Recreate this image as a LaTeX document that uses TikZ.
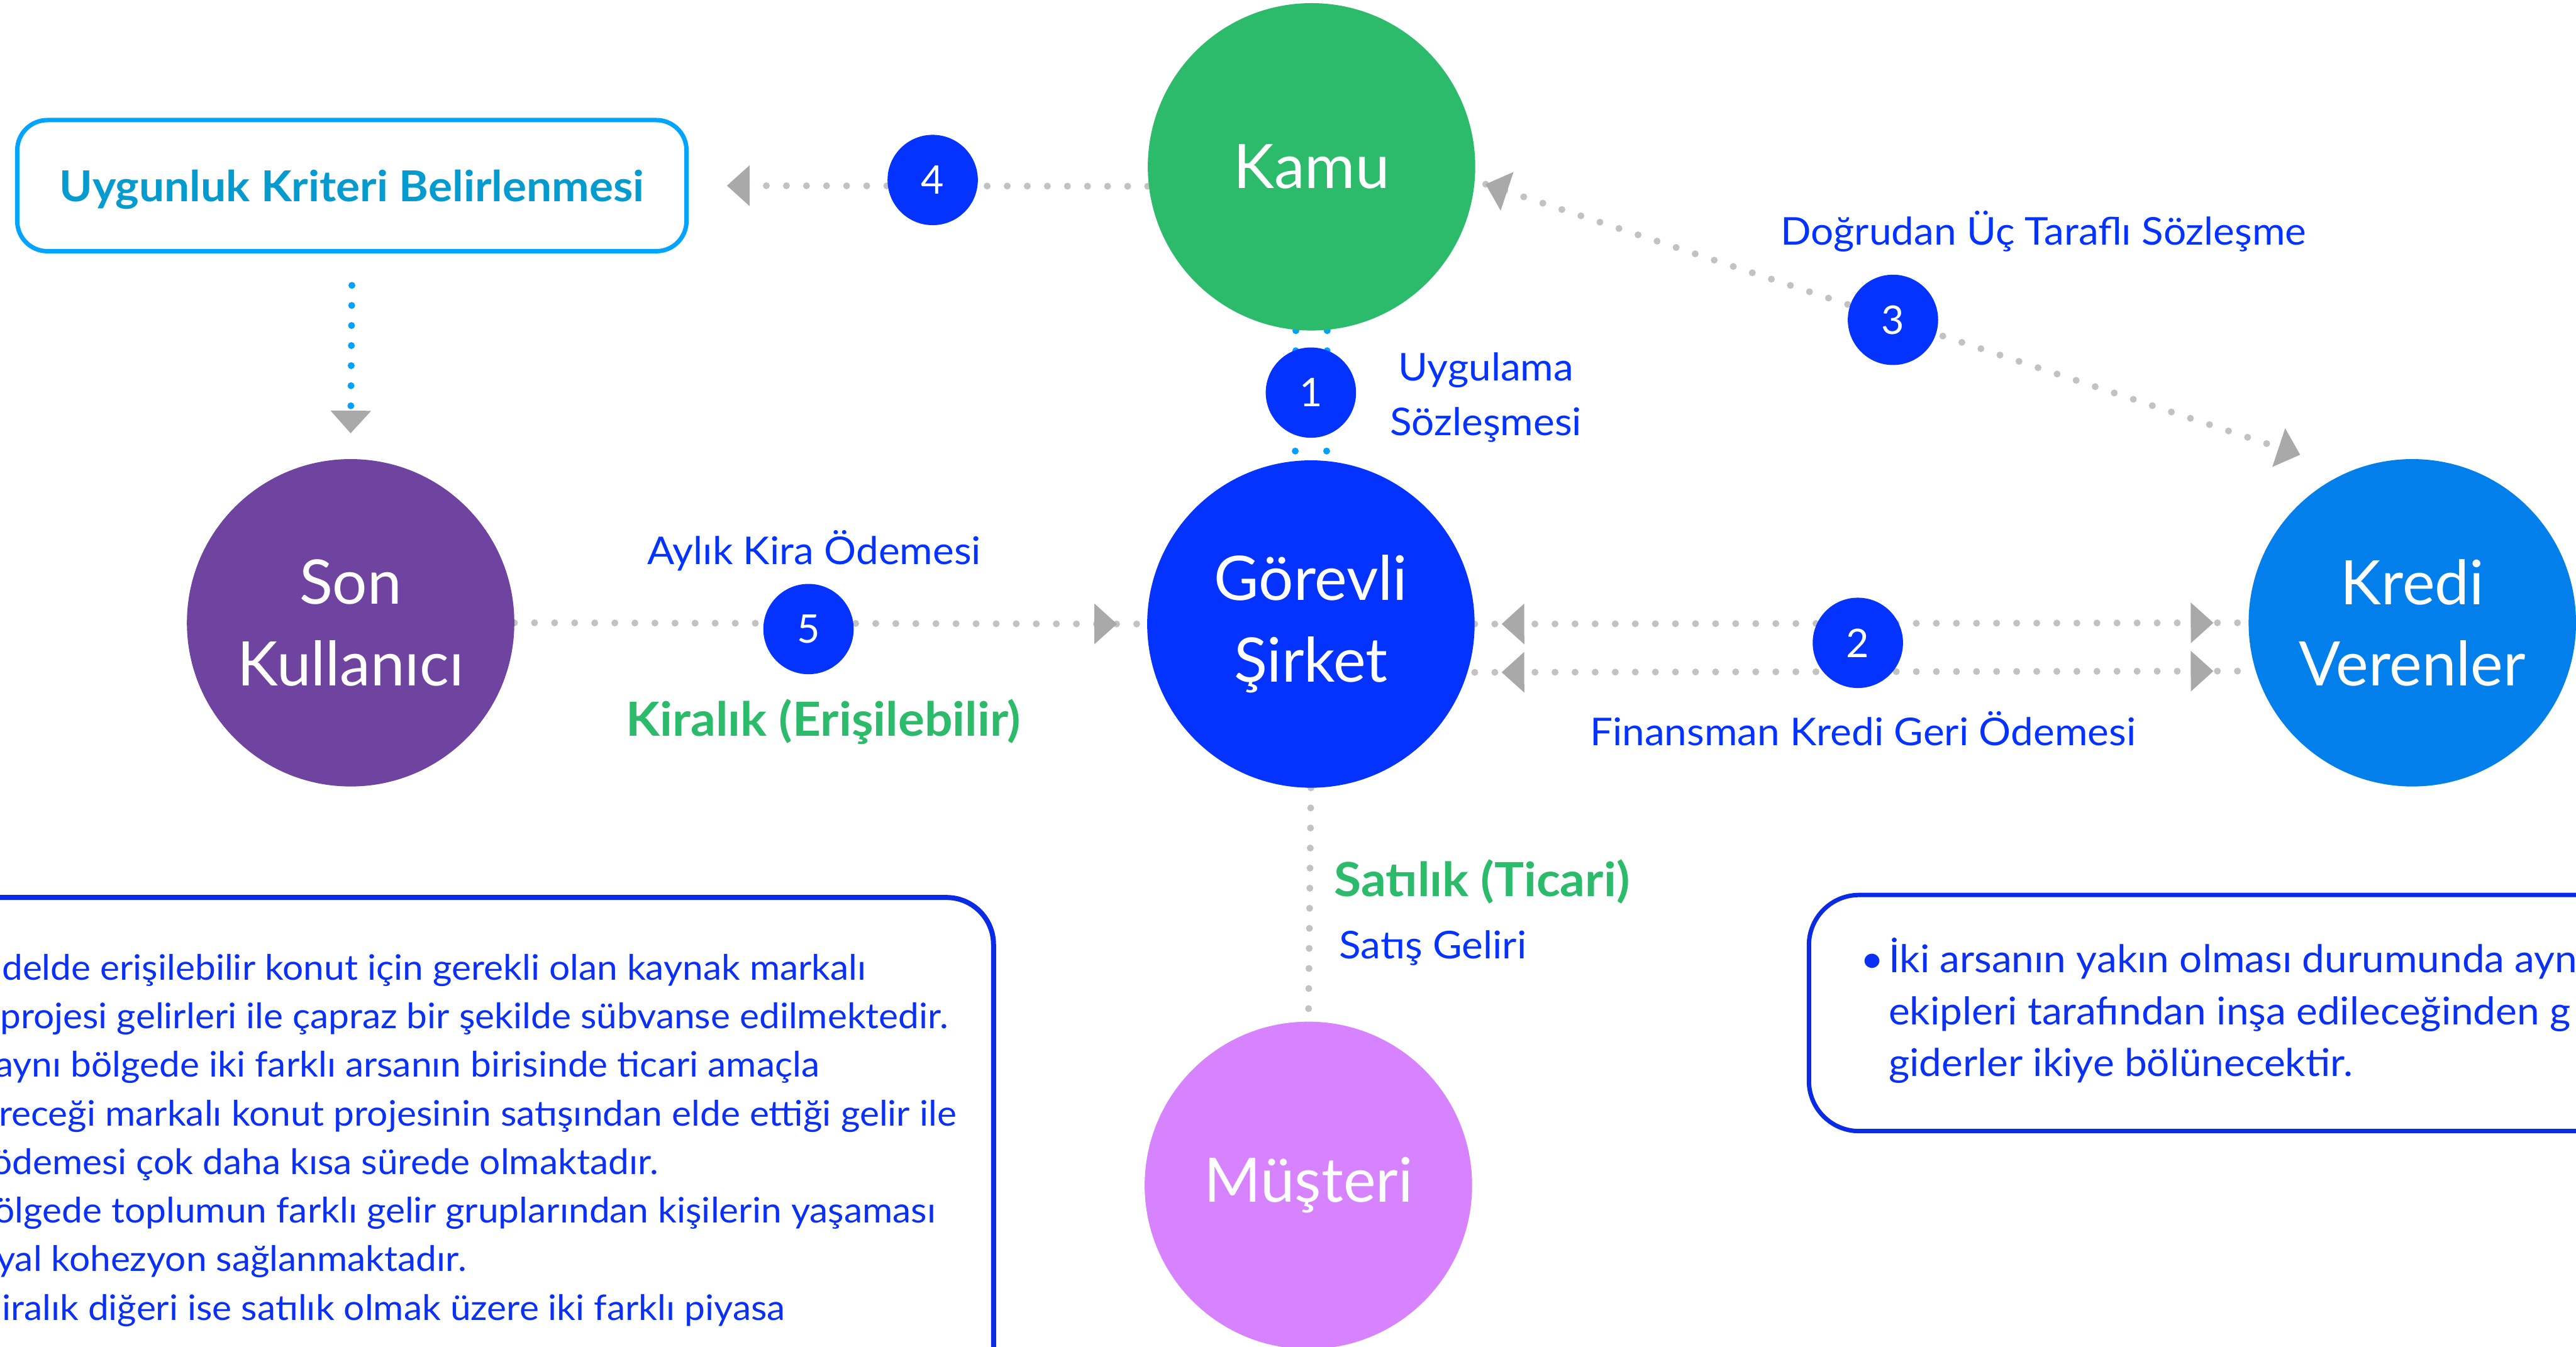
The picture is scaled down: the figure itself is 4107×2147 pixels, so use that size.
\documentclass[tikz,border=0pt]{standalone}
\usepackage{fontspec}
\setmainfont{Lato}[FakeStretch=1.05]
\newfontfamily\plainlato{Lato}
\usetikzlibrary{arrows.meta,decorations.markings,backgrounds}

\definecolor{kamuG}{HTML}{2BBB6B}
\definecolor{coreB}{HTML}{0433FF}
\definecolor{sonP}{HTML}{6F44A1}
\definecolor{krediB}{HTML}{037FEC}
\definecolor{musP}{HTML}{D783FF}
\definecolor{uygBorder}{HTML}{00A4FF}
\definecolor{uygText}{HTML}{069BCF}
\definecolor{cyanDot}{HTML}{00A2FF}
\definecolor{dotG}{HTML}{C2C2C2}
\definecolor{arrG}{HTML}{A9A9A9}
\definecolor{boxB}{HTML}{0A2BE6}
\definecolor{txtB}{HTML}{0A30F5}

\tikzset{
  bigcirc/.style={circle,minimum size=522pt,inner sep=0pt,text=white,align=center,font=\plainlato\fontsize{98}{130}\selectfont},
  badge/.style={circle,minimum size=144pt,inner sep=0pt,fill=coreB,text=white,font=\plainlato\fontsize{63}{63}\selectfont},
  lbl/.style={inner sep=0pt,text=coreB,font=\fontsize{61}{87}\selectfont},
  glbl/.style={inner sep=0pt,text=kamuG,font=\bfseries\fontsize{75}{90}\selectfont},
  boxtxt/.style={inner sep=0pt,anchor=base west,text=txtB,font=\fontsize{56}{77}\selectfont},
  rboxtxt/.style={inner sep=0pt,anchor=base west,text=txtB,font=\fontsize{61}{82}\selectfont},
  gdots/.style={draw=dotG,line width=11pt,line cap=round,dash pattern=on 0pt off 32pt},
  cdots/.style={draw=cyanDot,line width=11pt,line cap=round,dash pattern=on 0pt off 32pt},
  tipend/.style={postaction={decorate,decoration={markings,mark=at position #1 with {\arrow{Triangle[length=36pt,width=65pt,line width=0pt,color=arrG]}}}}},
  tipstart/.style={postaction={decorate,decoration={markings,mark=at position #1 with {\arrowreversed{Triangle[length=36pt,width=65pt,line width=0pt,color=arrG]}}}}},
}

\begin{document}
\begin{tikzpicture}[x=1pt,y=-1pt]
\useasboundingbox (0,0) rectangle (4107,2147);
\clip (0,0) rectangle (4107,2147);

% main circles
\node[bigcirc,fill=kamuG] (kamu) at (2091,266) {Kamu};
\node[bigcirc,fill=coreB] (gorevli) at (2090,995) {Görevli\\Şirket};
\node[bigcirc,fill=sonP] (son) at (559,993) {Son\\Kullanıcı};
\node[bigcirc,fill=krediB] (kredi) at (3846,993) {Kredi\\Verenler};
\node[bigcirc,fill=musP] (musteri) at (2086,1890) {Müşteri};

% criteria box
\node[draw=uygBorder,line width=7pt,rounded corners=48pt,minimum width=1067pt,minimum height=209pt,inner sep=0pt,text depth=0pt,text=uygText,font=\bfseries\fontsize{68}{80}\selectfont] (uyg) at (561,296) {Uygunluk Kriteri Belirlenmesi};

% badges
\node[badge] (b1) at (2090,626) {1};
\node[badge] (b2) at (2962,1025) {2};
\node[badge] (b3) at (3018,510) {3};
\node[badge] (b4) at (1487,287) {4};
\node[badge] (b5) at (1289,1003) {5};

% labels
\node[lbl,align=center] (l1) at (2369,634) {Uygulama\\Sözleşmesi};
\node[lbl,anchor=base] (l2) at (2970,1189) {Finansman Kredi Geri Ödemesi};
\node[lbl,anchor=base] (l3) at (3258,391) {Doğrudan Üç Taraflı Sözleşme};
\node[lbl,anchor=base] (l5) at (1298,900) {Aylık Kira Ödemesi};
\node[glbl,anchor=base] (g5) at (1313,1174) {Kiralık (Erişilebilir)};
\node[glbl,anchor=base west] (gs) at (2127,1429) {Satılık (Ticari)};
\node[lbl,anchor=base west] (ls) at (2135,1529) {Satış Geliri};

% text boxes
\draw[draw=boxB,line width=8pt,rounded corners=75pt] (-200,1431) rectangle (1584,2400);
\draw[draw=boxB,line width=7pt,rounded corners=80pt] (2884,1427) rectangle (4400,1803.5);

\node[boxtxt] (t1) at (3,1563) {delde erişilebilir konut için gerekli olan kaynak markalı};
\node[boxtxt] (t2) at (0,1640) {projesi gelirleri ile çapraz bir şekilde sübvanse edilmektedir.};
\node[boxtxt] (t3) at (-8,1717) {aynı bölgede iki farklı arsanın birisinde ticari amaçla};
\node[boxtxt] (t4) at (-2,1795) {receği markalı konut projesinin satışından elde ettiği gelir ile};
\node[boxtxt] (t5) at (-14,1872) {ödemesi çok daha kısa sürede olmaktadır.};
\node[boxtxt] (t6) at (-10,1950) {ölgede toplumun farklı gelir gruplarından kişilerin yaşaması};
\node[boxtxt] (t7) at (-6,2027) {yal kohezyon sağlanmaktadır.};
\node[boxtxt] (t8) at (3,2105) {iralık diğeri ise satılık olmak üzere iki farklı piyasa};

\node[rboxtxt] (rb) at (2966,1551) {•};
\node[rboxtxt] (r1) at (3011,1551) {İki arsanın yakın olması durumunda aynı};
\node[rboxtxt] (r2) at (3011,1634) {ekipleri tarafından inşa edileceğinden g};
\node[rboxtxt] (r3) at (3011,1716) {giderler ikiye bölünecektir.};

% connectors
\path (kamu.center) ++(-5.7:279pt) coordinate (k3a);
\path (kredi.center) ++(123.7:322pt) coordinate (k3b);
\coordinate (t4tip) at ([xshift=61pt]uyg.east);

\begin{scope}[on background layer]
  \fill[white] (0,0) rectangle (4107,2147);
  \draw[cdots] ([xshift=-25pt]kamu.south) -- ([xshift=-25pt]gorevli.north);
  \draw[cdots] ([xshift=25pt]kamu.south) -- ([xshift=25pt]gorevli.north);
  \draw[gdots,tipend=1] ([yshift=-31pt]kamu.west) -- (t4tip);
  \draw[cdots,tipend=1] ([yshift=-51pt]uyg.south) -- ([yshift=41pt]son.north);
  \draw[gdots,tipend=-48pt] (son.east) -- (gorevli.west);
  \draw[gdots,tipstart=43pt,tipend=-56pt] (gorevli.east) -- (kredi.west);
  \draw[gdots,tipstart=43pt,tipend=-56pt] ([yshift=-77pt]gorevli.east) -- ([yshift=-77pt]kredi.west);
  \draw[gdots,tipstart=0pt,tipend=1] (k3a) -- (k3b);
  \draw[gdots] (gorevli.south) -- (musteri.north);
\end{scope}
\end{tikzpicture}
\end{document}
